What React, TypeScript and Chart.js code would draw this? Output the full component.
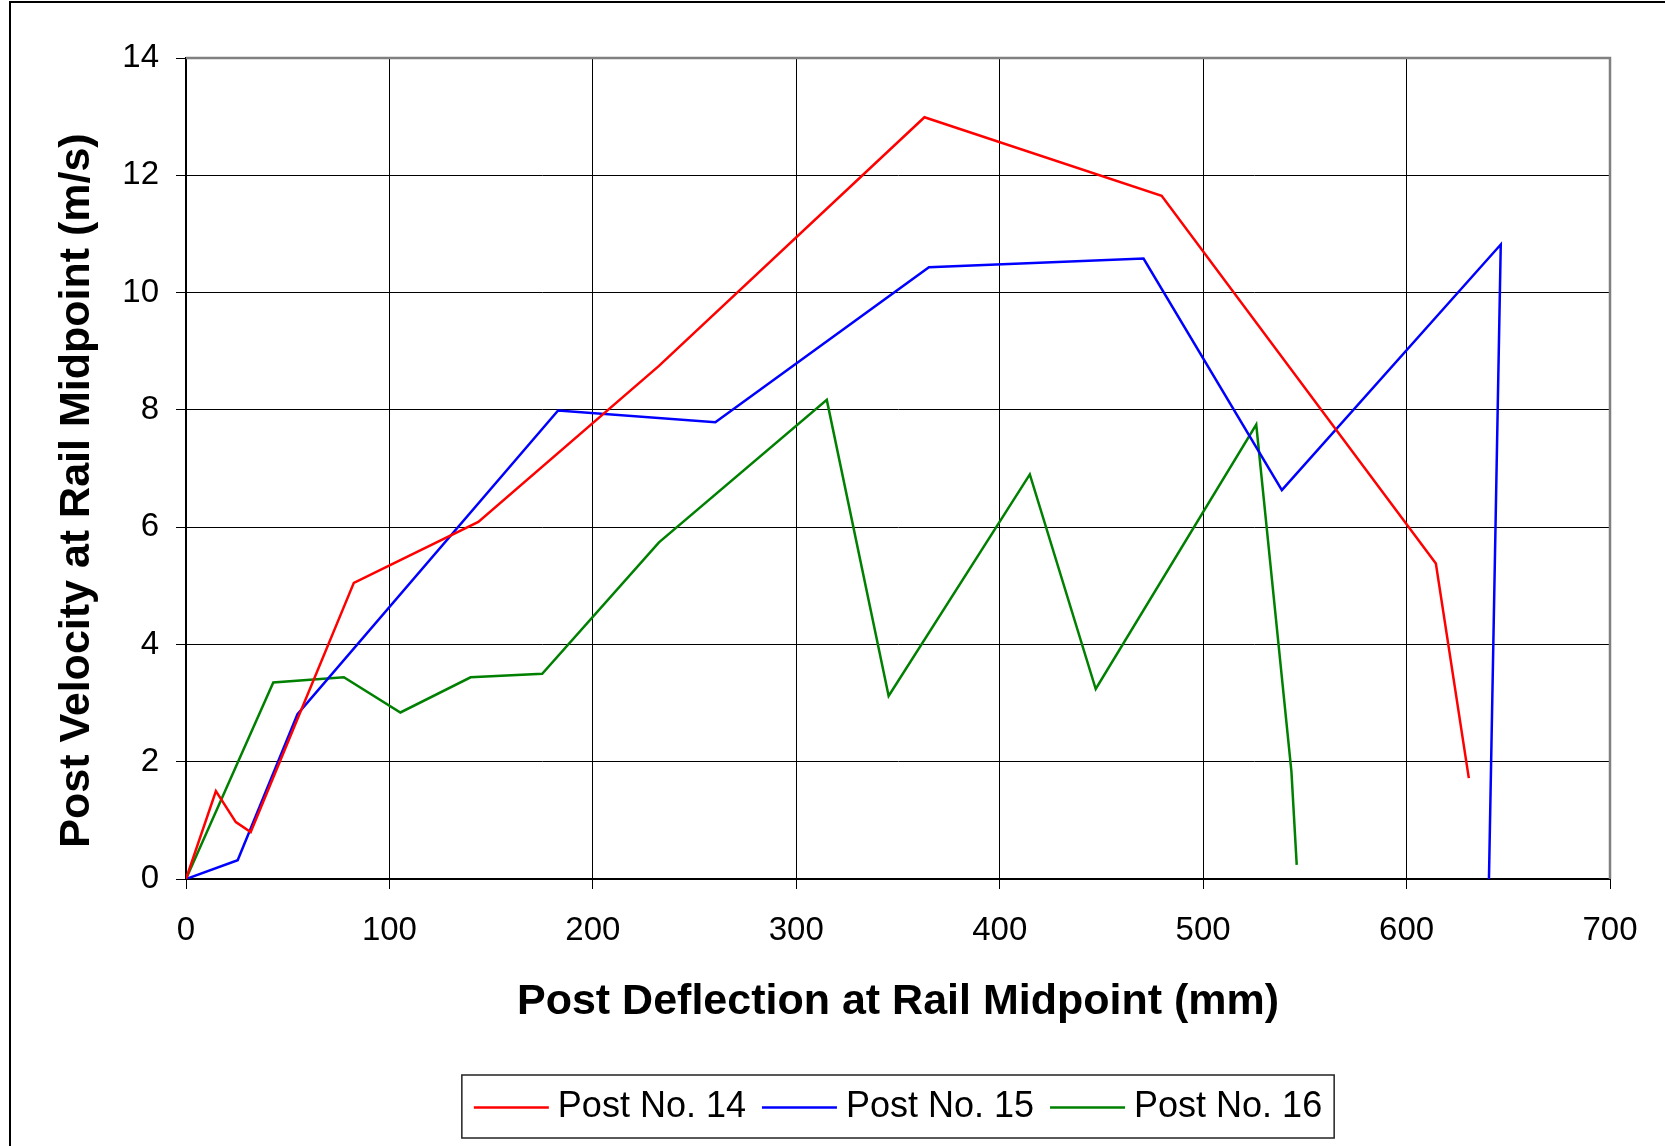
import React, { useEffect, useRef } from "react";
import { Chart, registerables } from "chart.js";

Chart.register(...registerables);

// ---- Data ----
const seriesNames = ["Post No. 14", "Post No. 15", "Post No. 16"];
const seriesColors = ["#FF0000", "#0000FF", "#008000"];

const post14X = [0, 14.7, 24.5, 31.8, 82.5, 143.7, 232.5, 363, 479.6, 614.4, 630.6];
const post14Y = [0, 1.5, 0.97, 0.8, 5.05, 6.09, 8.75, 12.99, 11.65, 5.38, 1.72];

const post15X = [0, 25.4, 54.8, 182.9, 260.2, 365.2, 470.7, 538.7, 646.3, 640.5];
const post15Y = [0, 0.32, 2.81, 7.99, 7.79, 10.43, 10.58, 6.63, 10.82, 0];

const post16X = [0, 42.9, 77.6, 105.4, 139.9, 175.1, 232.5, 315, 345.4, 414.8, 447.2, 526.1, 543.4, 546];
const post16Y = [0, 3.35, 3.44, 2.84, 3.44, 3.5, 5.74, 8.17, 3.12, 6.9, 3.24, 7.75, 1.83, 0.24];

const xTicks = [0, 100, 200, 300, 400, 500, 600, 700];
const yTicks = [0, 2, 4, 6, 8, 10, 12, 14];

const xTitle = "Post Deflection at Rail Midpoint (mm)";
const yTitle = "Post Velocity at Rail Midpoint (m/s)";

const FONT = "'Liberation Sans', Arial, sans-serif";
const W = 1665;
const H = 1146;

function zip(xs: number[], ys: number[]) {
  return xs.map((x, i) => ({ x, y: ys[i] }));
}

const decorPlugin = {
  id: "decor",
  afterDraw(chart: any) {
    const ctx = chart.ctx;
    const { left, right, top, bottom } = chart.chartArea;
    ctx.save();
    // plot area border (gray, top & right)
    ctx.strokeStyle = "#808080";
    ctx.lineWidth = 2.5;
    ctx.beginPath();
    ctx.moveTo(left, top);
    ctx.lineTo(right, top);
    ctx.lineTo(right, bottom);
    ctx.stroke();

    // outer chart border (top & left visible)
    ctx.strokeStyle = "#000";
    ctx.lineWidth = 2;
    ctx.beginPath();
    ctx.moveTo(10, chart.height);
    ctx.lineTo(10, 2);
    ctx.lineTo(chart.width, 2);
    ctx.stroke();

    // y axis title
    ctx.save();
    ctx.translate(77.5, (top + bottom) / 2 + 22);
    ctx.rotate(-Math.PI / 2);
    ctx.font = `bold 43px ${FONT}`;
    ctx.fillStyle = "#000";
    ctx.textAlign = "center";
    ctx.textBaseline = "middle";
    ctx.fillText(yTitle, 0, 0);
    ctx.restore();

    // legend
    ctx.font = `36px ${FONT}`;
    const pad = 12;
    const lineLen = 75;
    const gapLT = 9;
    const gapItems = 16;
    const widths = seriesNames.map((n) => ctx.measureText(n).width);
    let total = pad * 2 + gapItems * (seriesNames.length - 1);
    widths.forEach((w) => (total += lineLen + gapLT + w));
    const cx = (left + right) / 2;
    const boxL = cx - total / 2;
    const boxT = chart.height - 71;
    const boxH = 63;
    ctx.strokeStyle = "#222";
    ctx.lineWidth = 1.5;
    ctx.strokeRect(boxL, boxT, total, boxH);
    let x = boxL + pad;
    const cy = boxT + boxH / 2;
    ctx.textBaseline = "middle";
    ctx.textAlign = "left";
    seriesNames.forEach((n, i) => {
      ctx.strokeStyle = seriesColors[i];
      ctx.lineWidth = 2.5;
      ctx.beginPath();
      ctx.moveTo(x, cy + 1);
      ctx.lineTo(x + lineLen, cy + 1);
      ctx.stroke();
      x += lineLen + gapLT;
      ctx.fillStyle = "#000";
      ctx.fillText(n, x, cy + 1);
      x += widths[i] + gapItems;
    });
    ctx.restore();
  },
};

export default function App() {
  const ref = useRef<HTMLCanvasElement | null>(null);

  useEffect(() => {
    if (!ref.current) return;
    const data = [zip(post14X, post14Y), zip(post15X, post15Y), zip(post16X, post16Y)];
    const chart = new Chart(ref.current, {
      type: "scatter",
      data: {
        datasets: seriesNames.map((name, i) => ({
          label: name,
          data: data[i],
          showLine: true,
          borderColor: seriesColors[i],
          backgroundColor: seriesColors[i],
          borderWidth: 2.5,
          pointRadius: 0,
          pointHoverRadius: 0,
          tension: 0,
        })),
      },
      options: {
        animation: false,
        responsive: false,
        devicePixelRatio: 1,
        events: [],
        layout: { padding: { left: 53, top: 58, right: 55, bottom: 118 } },
        plugins: {
          legend: { display: false },
          tooltip: { enabled: false },
          title: { display: false },
        },
        scales: {
          x: {
            type: "linear",
            min: 0,
            max: 700,
            afterBuildTicks: (scale: any) => {
              scale.ticks = xTicks.map((v) => ({ value: v }));
            },
            afterFit: (scale: any) => {
              scale.height = 149;
            },
            ticks: {
              color: "#000",
              font: { family: FONT, size: 33 },
              padding: 22,
              maxRotation: 0,
            },
            grid: { color: "#000", lineWidth: 1, tickLength: 10, drawTicks: true },
            border: { display: true, color: "#000", width: 2 },
            title: {
              display: true,
              text: xTitle,
              color: "#000",
              font: { family: FONT, size: 43, weight: "bold" },
              padding: { top: 0, bottom: 0 },
            },
          },
          y: {
            type: "linear",
            min: 0,
            max: 14,
            afterBuildTicks: (scale: any) => {
              scale.ticks = yTicks.map((v) => ({ value: v }));
            },
            afterFit: (scale: any) => {
              scale.width = 133;
            },
            ticks: {
              color: "#000",
              font: { family: FONT, size: 33 },
              padding: 17,
            },
            grid: { color: "#000", lineWidth: 1, tickLength: 10, drawTicks: true },
            border: { display: true, color: "#000", width: 2 },
            title: { display: false },
          },
        },
      } as any,
      plugins: [decorPlugin],
    });
    return () => chart.destroy();
  }, []);

  return (
    <div style={{ position: "fixed", left: 0, top: 0, width: W, height: H, background: "#fff" }}>
      <canvas ref={ref} width={W} height={H} style={{ width: W, height: H, display: "block" }} />
    </div>
  );
}
